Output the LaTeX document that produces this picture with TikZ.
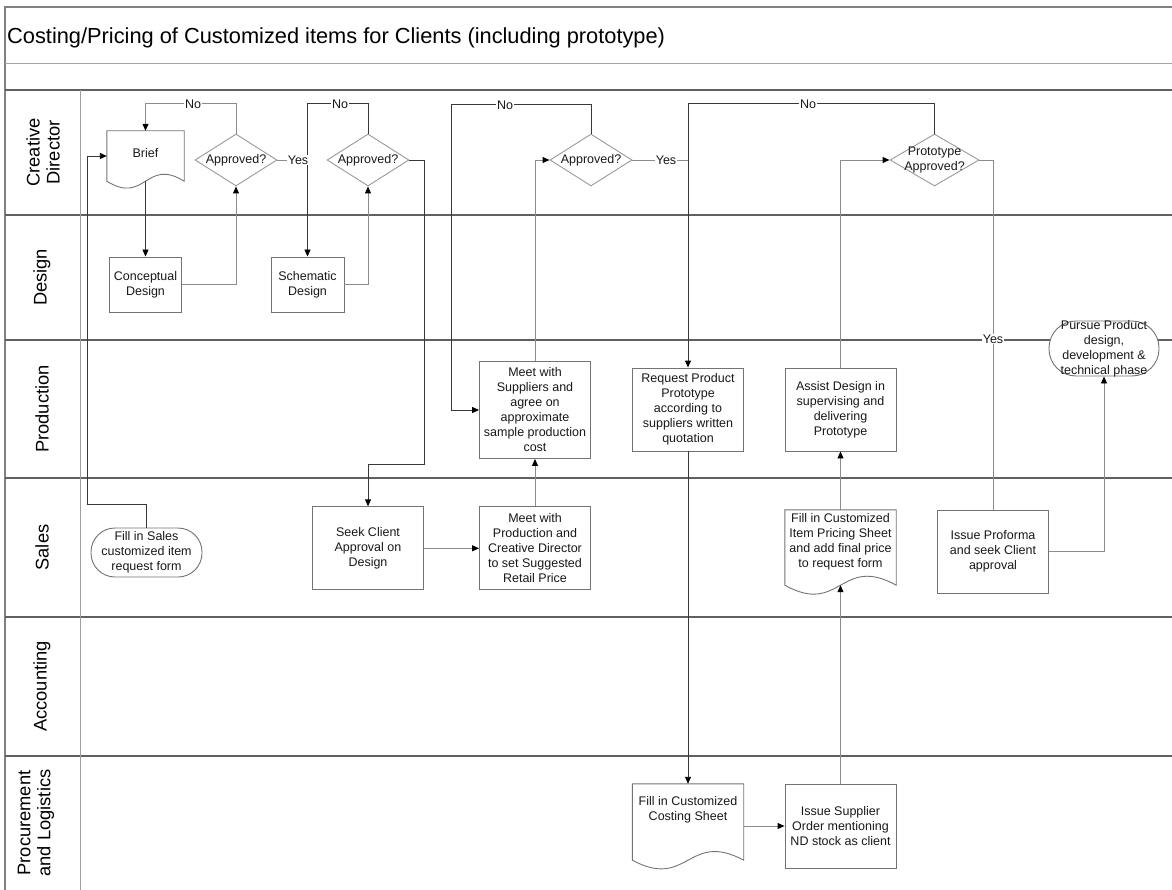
\documentclass[tikz,border=0pt]{standalone}
\usepackage{fontspec}
\setmainfont{Liberation Sans}
\usetikzlibrary{shapes.geometric,arrows.meta,calc}

% outline of a document shape (wavy bottom edge) around a named node
\newcommand\drawdoc[2]{%
  \draw[docline] (#1.south west) -- (#1.north west) -- (#1.north east) -- (#1.south east)
    .. controls ($(#1.south)+(0,-#2)$) and ($(#1.south)+(0,#2)$) .. (#1.south west) -- cycle;}

\begin{document}
\begin{tikzpicture}[x=1pt,y=-1pt,
  txt/.style={font=\fontsize{12.5}{15}\selectfont, align=center, text=black!90},
  box/.style={txt, rectangle, draw=black!55, fill=white, line width=0.9pt, inner sep=0pt,
              minimum width=111pt, minimum height=83pt},
  decision/.style={diamond, draw=black!40, fill=white, line width=0.9pt, inner sep=0pt,
              minimum width=82pt, minimum height=52pt},
  docnode/.style={rectangle, draw=none, inner sep=0pt},
  docline/.style={draw=black!55, line width=0.9pt},
  lanetxt/.style={font=\fontsize{18.3}{20}\selectfont, align=center, rotate=90},
  titletxt/.style={font=\fontsize{21.8}{24}\selectfont, inner sep=0pt},
  laneline/.style={draw=black!62, line width=1.3pt},
  frame/.style={draw=black!50, line width=1.1pt},
  thinrule/.style={draw=black!35, line width=1pt},
  divider/.style={draw=black!38, line width=1pt},
  wire/.style={draw=black!45, line width=0.9pt},
  wiredark/.style={draw=black!78, line width=0.9pt},
  arr/.style={-{Triangle[length=7pt,width=6pt,color=black]}},
  lbl/.style={txt, fill=white, inner sep=1pt}
]
\useasboundingbox (0,0) rectangle (1172,890);

% ---------- frame, title and swimlanes ----------
\draw[frame] (5,890) -- (5,7) -- (1172,7);
\draw[thinrule] (5,64) -- (1172,64);
\node[titletxt, anchor=base west] (title) at (7,44)
  {Costing/Pricing of Customized items for Clients (including prototype)};

\foreach \yy in {90,215,340,478,617,756}
  \draw[laneline] (5,\yy) -- (1172,\yy);
\draw[divider] (80,90) -- (80,890);

\node[lanetxt] (lanecd)   at (43,152.5) {Creative\\Director};
\node[lanetxt] (lanedes)  at (42,277.5) {Design};
\node[lanetxt] (laneprod) at (42,409)   {Production};
\node[lanetxt] (lanesal)  at (42,547.5) {Sales};
\node[lanetxt] (laneacc)  at (42,686.5) {Accounting};
\node[lanetxt] (laneproc) at (36,823)   {Procurement\\and Logistics};

% ---------- Creative Director ----------
\node[docnode, minimum width=77pt, minimum height=50pt,
      label={[txt,yshift=3pt]center:Brief}] (brief) at (145.5,156) {};
\drawdoc{brief}{24}
\node[decision, label={[txt]center:Approved?}] (d1) at (236,160) {};
\node[decision, label={[txt]center:Approved?}] (d2) at (368,160) {};
\node[decision, label={[txt]center:Approved?}] (d3) at (591,160) {};
\node[decision, minimum width=89pt,
      label={[txt]center:{Prototype\\Approved?}}] (d4) at (934.5,160) {};

% ---------- Design ----------
\node[box, minimum width=72pt, minimum height=55pt] (conc)  at (145.5,284.5) {Conceptual\\Design};
\node[box, minimum width=73pt, minimum height=55pt] (schem) at (307.5,284.5) {Schematic\\Design};

% ---------- Production ----------
\node[box, minimum height=97pt] (meetsup) at (535,410)
  {Meet with\\Suppliers and\\agree on\\approximate\\sample production\\cost};
\node[box] (reqproto) at (688,409.5)
  {Request Product\\Prototype\\according to\\suppliers written\\quotation};
\node[box] (assist) at (840.5,409.5)
  {Assist Design in\\supervising and\\delivering\\Prototype};
\node[rectangle, rounded corners=27pt, draw=black!55, fill=white, line width=0.9pt,
      minimum width=110pt, minimum height=55pt,
      label={[txt]center:{Pursue Product\\design,\\development \&\\technical phase}}]
      (pursue) at (1104,348.5) {};

% ---------- Sales ----------
\node[box, rounded corners=24pt, minimum height=49pt] (fillsales) at (146.5,552.5)
  {Fill in Sales\\customized item\\request form};
\node[box] (seek) at (368,548.3) {Seek Client\\Approval on\\Design};
\node[box] (meetprod) at (535,548.3)
  {Meet with\\Production and\\Creative Director\\to set Suggested\\Retail Price};
\node[docnode, minimum width=111pt, minimum height=75pt,
      label={[txt,yshift=5.5pt]center:{Fill in Customized\\Item Pricing Sheet\\and add final price\\to request form}}]
      (pricing) at (840.5,547.5) {};
\drawdoc{pricing}{31}
\node[box] (proforma) at (993,551.5) {Issue Proforma\\and seek Client\\approval};

% ---------- Procurement and Logistics ----------
\node[docnode, minimum width=111pt, minimum height=76pt,
      label={[txt,yshift=12.5pt]center:{Fill in Customized\\Costing Sheet}}]
      (costing) at (688,822) {};
\drawdoc{costing}{30}
\node[box, minimum height=84pt] (supplier) at (840.5,826)
  {Issue Supplier\\Order mentioning\\ND stock as client};

% ---------- connectors ----------
\draw[wiredark,arr] (fillsales.north) -- ++(0,-23) -| ([xshift=-19pt]brief.west) -- (brief.west);
\draw[wiredark,arr] (brief.south) -- (conc.north);
\draw[wire,arr] (conc.east) -| (d1.south);
\draw[wire,arr] (d1.north) -- ++(0,-30) -| (brief.north);
\draw[wire] (d1.east) -- (d1.east -| schem.north);
\draw[wiredark,arr] (d2.north) -- ++(0,-30) -| (schem.north);
\draw[wire,arr] (schem.east) -| (d2.south);
\draw[wiredark,arr] (d2.east) -| ([yshift=41.7pt]seek.north east) -| (seek.north);
\draw[wire,arr] (seek.east) -- (meetprod.west);
\draw[wire,arr] (meetprod.north) -- (meetsup.south);
\draw[wire,arr] (meetsup.north) |- (d3.west);
\draw[wiredark,arr] (d3.north) -- ++(0,-29) -| ([xshift=-28pt]meetsup.west) -- (meetsup.west);
\draw[wire] (d3.east) -- (d3.east -| reqproto.north);
\draw[wiredark,arr] (d4.north) -- ++(0,-30) -| (reqproto.north);
\draw[wiredark,arr] (reqproto.south) -- (costing.north);
\draw[wire,arr] (costing.east |- supplier.west) -- (supplier.west);
\draw[wire,arr] (supplier.north) -- (pricing.south);
\draw[wire,arr] (pricing.north) -- (assist.south);
\draw[wire,arr] (assist.north) |- (d4.west);
\draw[wire] (d4.east) -| (proforma.north);
\draw[wire,arr] (proforma.east) -| (pursue.south);

% ---------- connector labels ----------
\node[lbl] (no1)  at (193,104) {No};
\node[lbl] (yes1) at (298,160) {Yes};
\node[lbl] (no2)  at (340,104) {No};
\node[lbl] (no3)  at (505,105) {No};
\node[lbl] (yes3) at (666,160) {Yes};
\node[lbl] (no4)  at (808,104) {No};
\node[lbl] (yes4) at (993,339) {Yes};
\end{tikzpicture}
\end{document}
